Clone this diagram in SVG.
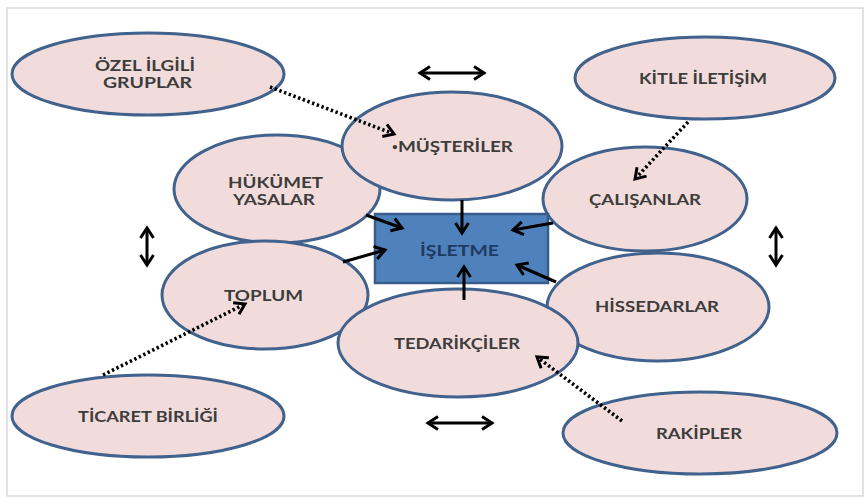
<svg xmlns="http://www.w3.org/2000/svg" width="864" height="498" viewBox="0 0 864 498">
<style>
.node ellipse{fill:#f2dcdb;stroke:#41628d;stroke-width:3}
.node text{font-family:Lato,"Open Sans","Liberation Sans",sans-serif;font-weight:700;font-size:15.5px;fill:#3d3d3d;text-anchor:start}
.solid{stroke:#000;stroke-width:3;fill:none}
.dot{stroke:#000;stroke-width:3.6;fill:none;stroke-dasharray:2.4 2.6}
</style>
<defs>
<marker id="ah" markerUnits="userSpaceOnUse" markerWidth="18" markerHeight="18" viewBox="0 0 18 18" refX="14" refY="9" orient="auto-start-reverse">
<path d="M4,2.5 L14,9 L4,15.5" fill="none" stroke="#000" stroke-width="3"/>
</marker>
<marker id="dh" markerUnits="userSpaceOnUse" markerWidth="18" markerHeight="18" viewBox="0 0 18 18" refX="14" refY="9" orient="auto">
<path d="M4,2.5 L14,9 L4,15.5" fill="none" stroke="#000" stroke-width="3"/>
</marker>
</defs>
<rect x="0" y="0" width="864" height="498" fill="#fff"/>
<rect x="7" y="8" width="856" height="488" fill="none" stroke="#d9d9d9" stroke-width="1.5"/>

<g id="ozel-ilgili-gruplar" class="node">
<ellipse cx="148" cy="74" rx="136" ry="41"/>
<text x="95" y="71" textLength="100" lengthAdjust="spacingAndGlyphs">ÖZEL İLGİLİ</text>
<text x="103" y="88" textLength="89" lengthAdjust="spacingAndGlyphs">GRUPLAR</text>
</g>
<g id="kitle-iletisim" class="node">
<ellipse cx="705" cy="78" rx="130" ry="41"/>
<text x="639" y="84" textLength="128" lengthAdjust="spacingAndGlyphs">KİTLE İLETİŞİM</text>
</g>
<g id="hukumet-yasalar" class="node">
<ellipse cx="277" cy="189" rx="103" ry="54"/>
<text x="228" y="188" textLength="95" lengthAdjust="spacingAndGlyphs">HÜKÜMET</text>
<text x="233" y="205" textLength="82" lengthAdjust="spacingAndGlyphs">YASALAR</text>
</g>
<g id="musteriler" class="node">
<ellipse cx="452" cy="146" rx="110" ry="54"/>
<text x="392" y="150"><tspan font-size="10">•</tspan><tspan x="398" y="152" textLength="115" lengthAdjust="spacingAndGlyphs">MÜŞTERİLER</tspan></text>
</g>
<g id="calisanlar" class="node">
<ellipse cx="645" cy="199" rx="102" ry="52"/>
<text x="589" y="205" textLength="112" lengthAdjust="spacingAndGlyphs">ÇALIŞANLAR</text>
</g>
<g id="toplum" class="node">
<ellipse cx="265" cy="295" rx="103" ry="54"/>
<text x="224" y="301" textLength="79" lengthAdjust="spacingAndGlyphs">TOPLUM</text>
</g>
<g id="hissedarlar" class="node">
<ellipse cx="658" cy="307" rx="111" ry="54"/>
<text x="595" y="312" textLength="124" lengthAdjust="spacingAndGlyphs">HİSSEDARLAR</text>
</g>
<g id="tedarikciler" class="node">
<ellipse cx="458" cy="343" rx="120" ry="54"/>
<text x="394" y="349" textLength="126" lengthAdjust="spacingAndGlyphs">TEDARİKÇİLER</text>
</g>
<g id="ticaret-birligi" class="node">
<ellipse cx="148" cy="416" rx="136" ry="41"/>
<text x="78" y="422" textLength="140" lengthAdjust="spacingAndGlyphs">TİCARET BİRLİĞİ</text>
</g>
<g id="rakipler" class="node">
<ellipse cx="700" cy="433" rx="137" ry="41"/>
<text x="656" y="439" textLength="86" lengthAdjust="spacingAndGlyphs">RAKİPLER</text>
</g>
<g id="isletme">
<rect x="375" y="214" width="173" height="69" fill="#4f81bd" stroke="#385d8a" stroke-width="2.5"/>
<text x="420" y="256" textLength="79" lengthAdjust="spacingAndGlyphs" font-family="Lato,'Open Sans','Liberation Sans',sans-serif" font-weight="700" font-size="15.5" fill="#1f3a60">İŞLETME</text>
</g>

<g id="connectors">
<path class="solid" d="M462,200 L462,233" marker-end="url(#ah)"/>
<path class="solid" d="M366,215 L402,228" marker-end="url(#ah)"/>
<path class="solid" d="M553,223 L513,230" marker-end="url(#ah)"/>
<path class="solid" d="M343,262 L385,250" marker-end="url(#ah)"/>
<path class="solid" d="M464,300 L464,267" marker-end="url(#ah)"/>
<path class="solid" d="M556,282 L517,265" marker-end="url(#ah)"/>
<path class="solid" d="M420,73 L484,73" marker-start="url(#ah)" marker-end="url(#ah)"/>
<path class="solid" d="M428,423 L492,423" marker-start="url(#ah)" marker-end="url(#ah)"/>
<path class="solid" d="M147,228 L147,265" marker-start="url(#ah)" marker-end="url(#ah)"/>
<path class="solid" d="M776,228 L776,265" marker-start="url(#ah)" marker-end="url(#ah)"/>
<path class="dot" d="M270,87 L394,134" marker-end="url(#dh)"/>
<path class="dot" d="M688,122 L635,179" marker-end="url(#dh)"/>
<path class="dot" d="M103,375 L245,304" marker-end="url(#dh)"/>
<path class="dot" d="M622,421 L537,357" marker-end="url(#dh)"/>
</g>
</svg>
